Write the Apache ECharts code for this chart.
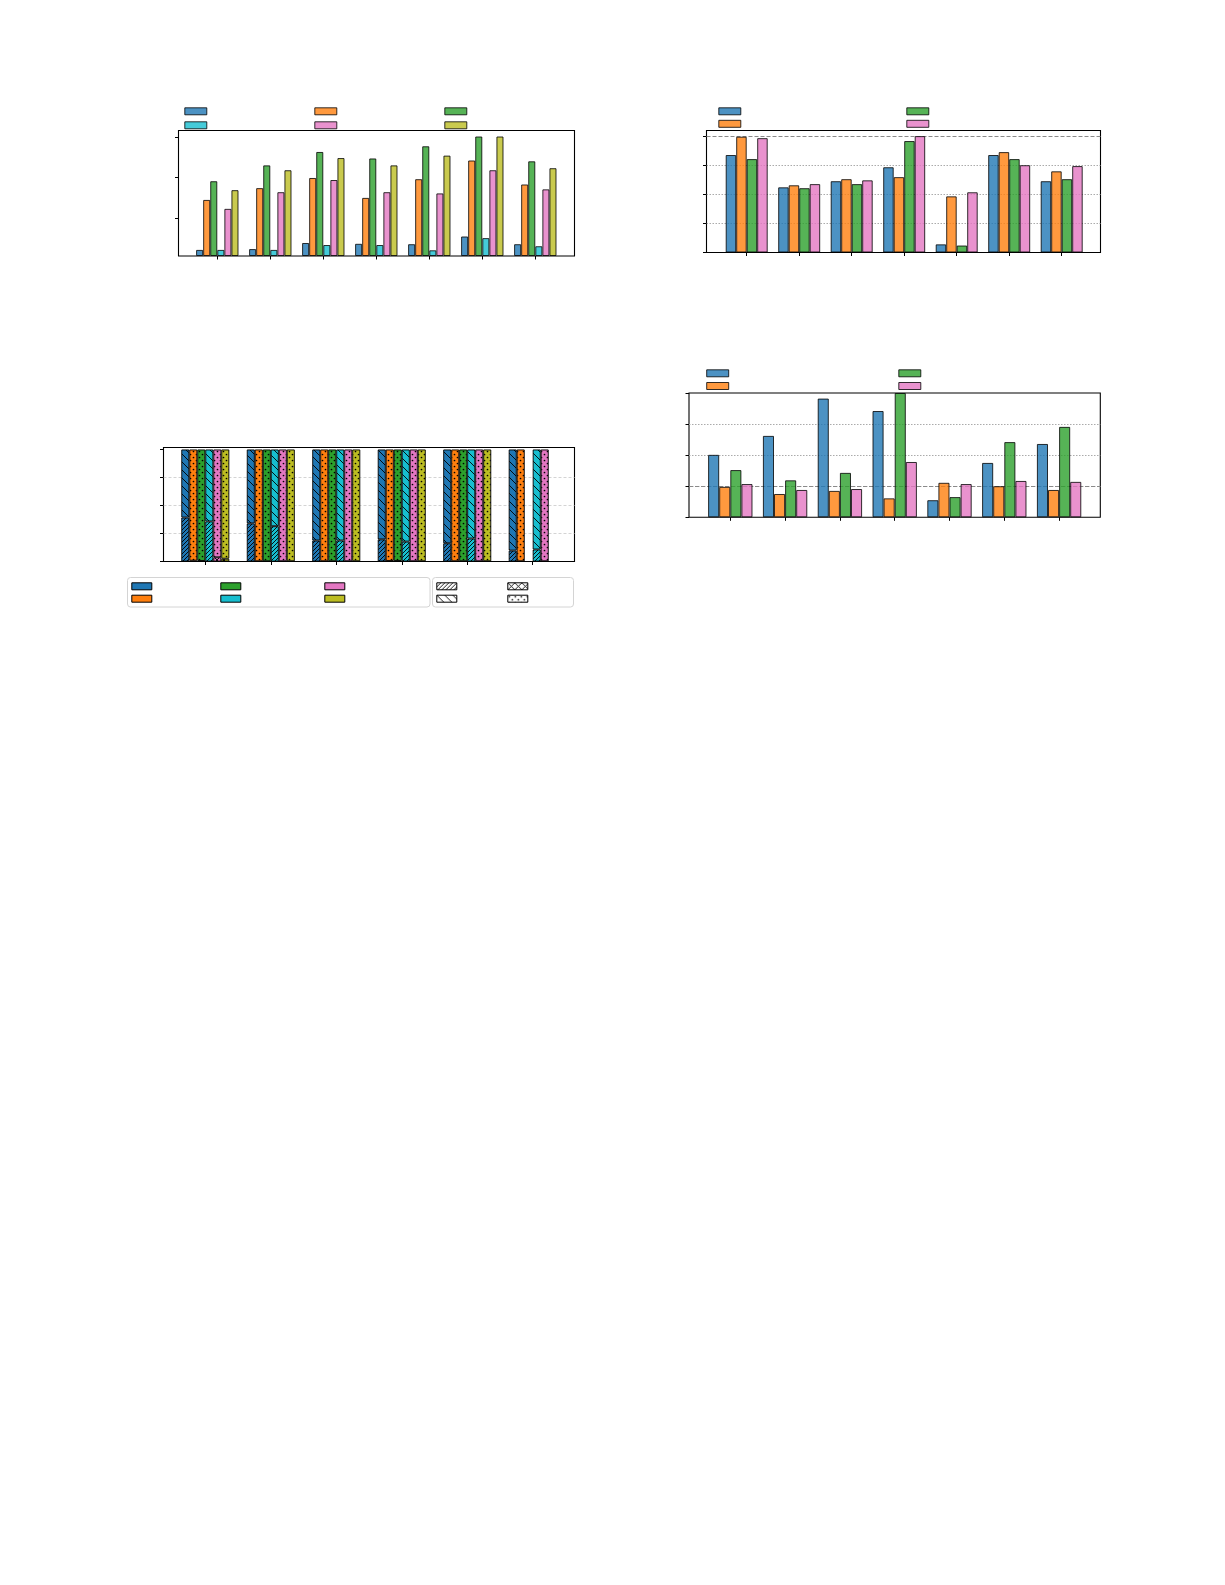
<!DOCTYPE html>
<html><head><meta charset="utf-8">
<script src="https://cdn.jsdelivr.net/npm/echarts@6/dist/echarts.min.js"></script>
<style>html,body{margin:0;padding:0;background:#fff}#c{width:1225px;height:1585px}</style>
</head><body><div id="c"></div>
<script>
// ================= DATA =================
// top-left panel (values in tick units above the axis bottom)
const tlCategories = ['c1','c2','c3','c4','c5','c6','c7'];
const tlBlue   = [0.15, 0.17, 0.32, 0.30, 0.29, 0.48, 0.29];
const tlOrange = [1.38, 1.67, 1.92, 1.43, 1.89, 2.35, 1.76];
const tlGreen  = [1.84, 2.23, 2.56, 2.40, 2.70, 2.94, 2.33];
const tlCyan   = [0.15, 0.15, 0.27, 0.27, 0.14, 0.44, 0.24];
const tlPink   = [1.16, 1.57, 1.87, 1.57, 1.54, 2.11, 1.64];
const tlYellow = [1.62, 2.11, 2.41, 2.23, 2.47, 2.94, 2.16];
const tlTicks  = [0.934, 1.934, 2.934];

// top-right panel
const trCategories = ['c1','c2','c3','c4','c5','c6','c7'];
const trBlue   = [3.35, 2.24, 2.45, 2.93, 0.28, 3.35, 2.45];
const trOrange = [3.98, 2.31, 2.52, 2.59, 1.93, 3.45, 2.79];
const trGreen  = [3.21, 2.21, 2.35, 3.83, 0.24, 3.21, 2.52];
const trPink   = [3.93, 2.35, 2.48, 4.00, 2.07, 3.00, 2.97];
const trTicks  = [0, 1, 2, 3, 4];
const trRefLine = 4;

// middle-right panel
const mrCategories = ['c1','c2','c3','c4','c5','c6','c7'];
const mrBlue   = [2.01, 2.62, 3.82, 3.42, 0.55, 1.75, 2.36];
const mrOrange = [0.98, 0.75, 0.85, 0.61, 1.11, 1.00, 0.88];
const mrGreen  = [1.52, 1.19, 1.43, 4.00, 0.65, 2.42, 2.91];
const mrPink   = [1.07, 0.88, 0.91, 1.78, 1.07, 1.17, 1.14];
const mrTicks  = [0, 1, 2, 3, 4];
const mrRefLine = 1;

// middle-left panel (stacked: bottom part + top part)
const mlCategories = ['c1','c2','c3','c4','c5','c6'];
const mlBlueBottom   = [1.57, 1.36, 0.75, 0.79, 0.65, 0.39];
const mlBlueTop      = [2.43, 2.64, 3.25, 3.21, 3.35, 3.61];
const mlOrangeBottom = [0.03, 0.01, 0.01, 0.02, 0.01, 0.01];
const mlOrangeTop    = [3.97, 3.99, 3.99, 3.98, 3.99, 3.99];
const mlGreenBottom  = [0.02, 0.01, 0.01, 0.02, 0.01, null];
const mlGreenTop     = [3.98, 3.99, 3.99, 3.98, 3.99, null];
const mlCyanBottom   = [1.43, 1.26, 0.75, 0.71, 0.82, 0.43];
const mlCyanTop      = [2.57, 2.74, 3.25, 3.29, 3.18, 3.57];
const mlPinkBottom   = [0.15, 0.01, 0.01, 0.01, 0.01, 0.01];
const mlPinkTop      = [3.85, 3.99, 3.99, 3.99, 3.99, 3.99];
const mlYellowBottom = [0.10, 0.01, 0.01, 0.01, 0.01, null];
const mlYellowTop    = [3.90, 3.99, 3.99, 3.99, 3.99, null];
const mlTicks  = [0, 1, 2, 3, 4];

// ================= STYLE HELPERS =================
const TAB = {blue:'#1f77b4', orange:'#ff7f0e', green:'#2ca02c', cyan:'#17becf', pink:'#e377c2', yellow:'#bcbd22'};

function tile(bg, kind, s) {
  const c = document.createElement('canvas');
  c.width = s; c.height = s;
  const g = c.getContext('2d');
  if (bg) { g.fillStyle = bg; g.fillRect(0, 0, s, s); }
  g.strokeStyle = '#000'; g.fillStyle = '#000'; g.lineWidth = 0.9;
  if (kind === '/' || kind === 'x') {
    g.beginPath();
    g.moveTo(-1, s + 1); g.lineTo(s + 1, -1);
    g.moveTo(-1, 1); g.lineTo(1, -1);
    g.moveTo(s - 1, s + 1); g.lineTo(s + 1, s - 1);
    g.stroke();
  }
  if (kind === '\\' || kind === 'x') {
    g.beginPath();
    g.moveTo(-1, -1); g.lineTo(s + 1, s + 1);
    g.moveTo(s - 1, -1); g.lineTo(s + 1, 1);
    g.moveTo(-1, s - 1); g.lineTo(1, s + 1);
    g.stroke();
  }
  if (kind === '.') {
    g.beginPath(); g.arc(s * 0.25, s * 0.25, 0.85, 0, Math.PI * 2); g.fill();
    g.beginPath(); g.arc(s * 0.75, s * 0.75, 0.85, 0, Math.PI * 2); g.fill();
  }
  return {image: c, repeat: 'repeat'};
}
const HATCH = {
  dense: (bg) => tile(bg, '/', 4),
  back:  (bg) => tile(bg, '\\', 8),
  cross: (bg) => tile(bg, 'x', 7),
  dots:  (bg) => tile(bg, '.', 6)
};

// ================= BUILD =================
const grids = [], xAxes = [], yAxes = [], series = [], legends = [], graphics = [];

function panel(p) {
  const fi = grids.length;
  grids.push({left: p.frame[0], top: p.frame[1], width: p.frame[2], height: p.frame[3],
    show: true, borderColor: '#000', borderWidth: 1.1, backgroundColor: 'transparent'});
  const di = grids.length;
  grids.push({left: p.dataLeft, top: p.frame[1], width: p.dataWidth, height: p.frame[3]});
  const fx = xAxes.length;
  xAxes.push({gridIndex: fi, type: 'value', min: 0, max: 1, show: false});
  const dx = xAxes.length;
  xAxes.push({gridIndex: di, type: 'category', data: p.categories,
    axisLine: {show: false}, axisLabel: {show: false}, splitLine: {show: false},
    axisTick: {show: true, alignWithLabel: true, interval: 0, length: 3.5, lineStyle: {color: '#000', width: 1}}});
  const fy = yAxes.length;
  const yf = {gridIndex: fi, type: 'value', min: 0, max: p.yMax,
    axisLine: {show: false}, axisLabel: {show: false},
    axisTick: {show: true, customValues: p.yTicks, length: 3.5, lineStyle: {color: '#000', width: 1}},
    splitLine: {show: false}};
  if (p.split) {
    yf.interval = 1;
    yf.splitLine = {show: true, showMinLine: false, showMaxLine: false, lineStyle: p.split};
  }
  yAxes.push(yf);
  const dy = yAxes.length;
  yAxes.push({gridIndex: di, type: 'value', min: 0, max: p.yMax, show: false});
  if (p.refLine !== undefined) {
    series.push({type: 'line', name: p.id + '_ref', xAxisIndex: fx, yAxisIndex: fy, data: [], silent: true,
      markLine: {silent: true, z: 1, symbol: 'none', label: {show: false}, emphasis: {disabled: true},
        lineStyle: {type: [4, 2], color: '#8a8a8a', width: 1}, data: [{yAxis: p.refLine}]}});
  }
  return {fx, fy, dx, dy};
}

function legendItem(name, x, y, w, h, style) {
  legends.push({show: true, data: [name], left: x, top: y, padding: 0, itemGap: 0,
    itemWidth: w, itemHeight: h, icon: 'rect', selectedMode: false,
    formatter: function () { return ''; }, textStyle: {fontSize: 1, lineHeight: 1},
    itemStyle: Object.assign({borderColor: '#000', borderWidth: 1}, style || {})});
}

function plainBars(prefix, ax, defs, gapPct) {
  defs.forEach(function (d) {
    series.push({type: 'bar', name: prefix + '_' + d[0], xAxisIndex: ax.dx, yAxisIndex: ax.dy,
      data: d[1], barGap: '0%', barCategoryGap: gapPct,
      itemStyle: {color: TAB[d[0]], opacity: 0.8, borderColor: '#000', borderWidth: 1},
      emphasis: {disabled: true}});
  });
}

// ---- top-left ----
const tl = panel({id: 'tl', frame: [178.5, 130.5, 396, 125.5], dataLeft: 190.8, dataWidth: 371,
  categories: tlCategories, yMax: 3.088, yTicks: tlTicks});
plainBars('tl', tl, [['blue', tlBlue], ['orange', tlOrange], ['green', tlGreen],
  ['cyan', tlCyan], ['pink', tlPink], ['yellow', tlYellow]], '20%');
[['blue', 184.3, 107.3], ['cyan', 184.3, 121.3], ['orange', 314.3, 107.3], ['pink', 314.3, 121.3],
 ['green', 444.3, 107.3], ['yellow', 444.3, 121.3]].forEach(function (l) {
  legendItem('tl_' + l[0], l[1], l[2], 22, 7, {opacity: 0.8});
});

// ---- top-right ----
const tr = panel({id: 'tr', frame: [706.5, 130.5, 394, 122], dataLeft: 720.45, dataWidth: 367.5,
  categories: trCategories, yMax: 4.193, yTicks: trTicks, refLine: trRefLine,
  split: {type: [1.5, 1.5], color: '#ababab', width: 1}});
plainBars('tr', tr, [['blue', trBlue], ['orange', trOrange], ['green', trGreen], ['pink', trPink]], '20%');
[['blue', 718.3, 107.3], ['orange', 718.3, 119.8], ['green', 906.3, 107.3], ['pink', 906.3, 119.8]]
  .forEach(function (l) { legendItem('tr_' + l[0], l[1], l[2], 22, 7, {opacity: 0.8}); });

// ---- middle-right ----
const mr = panel({id: 'mr', frame: [689, 393, 411.3, 124.3], dataLeft: 702.9, dataWidth: 383.6,
  categories: mrCategories, yMax: 4, yTicks: mrTicks, refLine: mrRefLine,
  split: {type: [1.5, 1.5], color: '#ababab', width: 1}});
plainBars('mr', mr, [['blue', mrBlue], ['orange', mrOrange], ['green', mrGreen], ['pink', mrPink]], '19%');
[['blue', 706.2, 369.3], ['orange', 706.2, 382], ['green', 898.3, 369.3], ['pink', 898.3, 382]]
  .forEach(function (l) { legendItem('mr_' + l[0], l[1], l[2], 22, 7, {opacity: 0.8}); });

// ---- middle-left (stacked + hatched) ----
const ml = panel({id: 'ml', frame: [163.5, 447.5, 411, 114], dataLeft: 172.56, dataWidth: 392.9,
  categories: mlCategories, yMax: 4.071, yTicks: mlTicks,
  split: {type: [3, 2], color: '#cfcfcf', width: 0.9}});
const mlDefs = [
  ['blue', mlBlueBottom, mlBlueTop, 'dense', 'back'],
  ['orange', mlOrangeBottom, mlOrangeTop, 'cross', 'dots'],
  ['green', mlGreenBottom, mlGreenTop, 'cross', 'dots'],
  ['cyan', mlCyanBottom, mlCyanTop, 'dense', 'back'],
  ['pink', mlPinkBottom, mlPinkTop, 'cross', 'dots'],
  ['yellow', mlYellowBottom, mlYellowTop, 'cross', 'dots']
];
mlDefs.forEach(function (d) {
  [[d[1], d[3], 'bottom'], [d[2], d[4], 'top']].forEach(function (part) {
    series.push({type: 'bar', name: 'ml_' + d[0] + '_' + part[2], stack: 'ml_' + d[0],
      xAxisIndex: ml.dx, yAxisIndex: ml.dy, data: part[0], barGap: '0%', barCategoryGap: '26.7%',
      itemStyle: {color: HATCH[part[1]](TAB[d[0]]), borderColor: '#000', borderWidth: 0.9},
      emphasis: {disabled: true}});
  });
});
// legend-only entries for the middle-left panel
const mlLegendColors = [['blue', 131.3, 582.3], ['orange', 131.3, 594.7], ['green', 220.3, 582.3],
  ['cyan', 220.3, 594.7], ['pink', 324.3, 582.3], ['yellow', 324.3, 594.7]];
mlLegendColors.forEach(function (l) {
  series.push({type: 'scatter', name: 'mlleg_' + l[0], xAxisIndex: ml.fx, yAxisIndex: ml.fy, data: [],
    itemStyle: {color: TAB[l[0]], opacity: 1, borderColor: '#000', borderWidth: 1}});
  legendItem('mlleg_' + l[0], l[1], l[2], 20, 7, {color: TAB[l[0]], opacity: 1});
});
const mlLegendHatch = [['dense', 436.3, 582.3], ['back', 436.3, 594.7], ['cross', 507.3, 582.3], ['dots', 507.3, 594.7]];
mlLegendHatch.forEach(function (l) {
  const pat = HATCH[l[0]]('#ffffff');
  series.push({type: 'scatter', name: 'mlhatch_' + l[0], xAxisIndex: ml.fx, yAxisIndex: ml.fy, data: [],
    itemStyle: {color: pat, opacity: 1, borderColor: '#000', borderWidth: 1}});
  legendItem('mlhatch_' + l[0], l[1], l[2], 20, 7, {color: pat, opacity: 1});
});
graphics.push({type: 'rect', silent: true, z: 0, shape: {x: 127.5, y: 577.5, width: 302.5, height: 29.5, r: 3},
  style: {fill: '#fff', stroke: '#d4d4d4', lineWidth: 1}});
graphics.push({type: 'rect', silent: true, z: 0, shape: {x: 432.5, y: 577.5, width: 141, height: 29.5, r: 3},
  style: {fill: '#fff', stroke: '#d4d4d4', lineWidth: 1}});

const chart = echarts.init(document.getElementById('c'), null, {renderer: 'canvas', width: 1225, height: 1585});
chart.setOption({
  animation: false,
  backgroundColor: '#ffffff',
  grid: grids, xAxis: xAxes, yAxis: yAxes, series: series, legend: legends, graphic: graphics
});
</script></body></html>
